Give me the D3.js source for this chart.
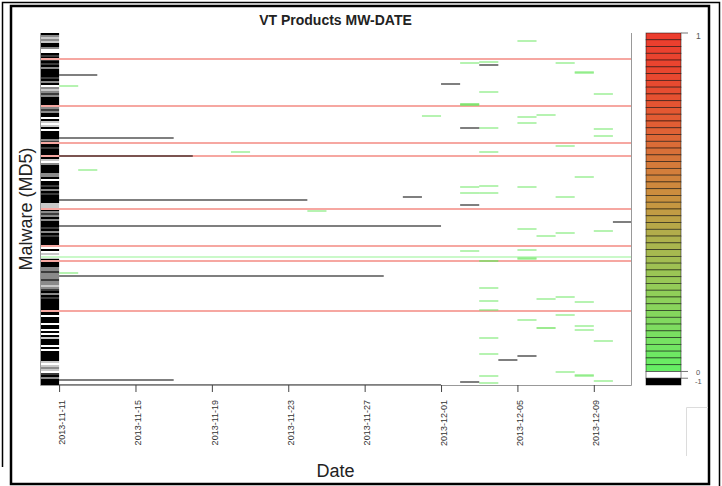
<!DOCTYPE html>
<html>
<head>
<meta charset="utf-8">
<title>VT Products MW-DATE</title>
<script src="https://cdnjs.cloudflare.com/ajax/libs/d3/7.8.5/d3.min.js"></script>
<style>
    body { margin: 0; background: #fff; }
    svg { display: block; font-family: "Liberation Sans", Arial, sans-serif; }
</style>
</head>
<body>
<div id="chart"></div>
<script>
// first and last day of the grid (one column per day)
const firstDay = "2013-11-10";
const lastDay = "2013-12-11";
const tickDates = ["2013-11-11", "2013-11-15", "2013-11-19", "2013-11-23",
    "2013-11-27", "2013-12-01", "2013-12-05", "2013-12-09"];

// malware rows, row 0 at the top
const nRows = 352;

// first day column, one char per two rows
// K = -1 (black), D/G/L = thin mixed rows, W = 0
const firstColumn = "K" + "GLGL" + "KK" + "GW" + "W" + "KD" + "K" + "DKDKG" +
    "KKKK" + "DKGK" + "W" + "GLGDG" + "KKKK" + "K" + "GDGK" + "KWK" + "LWL" +
    "KWK" + "KKK" + "GD" + "KKDKKKKK" + "LWG" + "KKKK" + "GG" + "KWK" +
    "KDKGKDK" + "KKK" + "LLL" + "K" + "GDGKG" + "KKK" + "DKGKD" + "KKKK" + "K" +
    "WKW" + "LWL" + "KKKK" + "GGDGG" + "GDGGLGD" + "KGKD" + "KKKKK" + "K" +
    "KKWKK" + "KWKKWKWK" + "L" + "KK" + "KWKWK" + "KKKK" + "LWLGLW" + "DKGK" + "KK";

// rows that are 1 on every day
const redRows = [25, 72, 109, 122, 175, 212, 227, 277];
// row that is just above 0 on every day
const greenRows = [223];

// runs of -1 : [row, from, to]
const blackRuns = [
    [41, "2013-11-11", "2013-11-13"],
    [104, "2013-11-11", "2013-11-17"],
    [122, "2013-11-11", "2013-11-18"],
    [166, "2013-11-11", "2013-11-24"],
    [192, "2013-11-11", "2013-12-01"],
    [242, "2013-11-11", "2013-11-28"],
    [346, "2013-11-11", "2013-11-17"],
    [351, "2013-11-11", "2013-12-01"],
    [31, "2013-12-03", "2013-12-04"],
    [50, "2013-12-01", "2013-12-02"],
    [94, "2013-12-02", "2013-12-03"],
    [163, "2013-11-29", "2013-11-30"],
    [171, "2013-12-02", "2013-12-03"],
    [188, "2013-12-10", "2013-12-11"],
    [322, "2013-12-05", "2013-12-06"],
    [326, "2013-12-04", "2013-12-05"],
    [348, "2013-12-02", "2013-12-03"]
];

// single days with a small value : [row, day, value]
const greenCells = [
    [7, "2013-12-05", 0.05], [28, "2013-12-03", 0.05], [29, "2013-12-02", 0.05],
    [29, "2013-12-07", 0.05], [38, "2013-12-08", 0.05], [39, "2013-12-08", 0.05],
    [52, "2013-11-11", 0.05], [58, "2013-12-03", 0.05], [60, "2013-12-09", 0.05],
    [70, "2013-12-02", 0.08], [71, "2013-12-02", 0.08], [81, "2013-12-06", 0.05],
    [82, "2013-11-30", 0.05], [83, "2013-12-05", 0.05], [89, "2013-12-05", 0.05],
    [94, "2013-12-03", 0.05], [95, "2013-12-09", 0.05], [102, "2013-12-09", 0.05],
    [112, "2013-12-07", 0.05], [118, "2013-12-03", 0.05], [118, "2013-11-20", 0.05],
    [136, "2013-11-12", 0.05], [143, "2013-12-08", 0.05], [152, "2013-12-03", 0.05],
    [153, "2013-12-02", 0.05], [153, "2013-12-05", 0.05], [159, "2013-12-02", 0.05],
    [159, "2013-12-03", 0.05], [163, "2013-12-07", 0.05], [177, "2013-11-24", 0.05],
    [195, "2013-12-05", 0.05], [197, "2013-12-09", 0.05], [199, "2013-12-07", 0.05],
    [202, "2013-12-06", 0.05], [216, "2013-12-05", 0.05], [217, "2013-12-02", 0.05],
    [224, "2013-12-05", 0.05], [225, "2013-12-05", 0.05], [227, "2013-12-03", 0.08],
    [239, "2013-11-11", 0.05], [254, "2013-12-03", 0.05], [263, "2013-12-07", 0.05],
    [265, "2013-12-06", 0.05], [267, "2013-12-03", 0.05], [268, "2013-12-08", 0.05],
    [276, "2013-12-03", 0.05], [281, "2013-12-07", 0.05], [286, "2013-12-05", 0.05],
    [292, "2013-12-08", 0.05], [294, "2013-12-06", 0.08], [296, "2013-12-08", 0.05],
    [304, "2013-12-03", 0.05], [307, "2013-12-09", 0.05], [320, "2013-12-03", 0.05],
    [338, "2013-12-07", 0.05], [341, "2013-12-08", 0.05], [342, "2013-12-08", 0.05],
    [342, "2013-12-03", 0.05], [347, "2013-12-09", 0.05], [349, "2013-12-03", 0.05]
];

// colour key: 50 steps from 0 to 1, then 0 and -1
const keySteps = 50;
const keyTicks = [["1", 0], ["0", 50], ["-1", 51]];


let margin = {top: 33, right: 90, bottom: 101, left: 40},
    w = 722 - margin.left - margin.right,
    h = 486 - margin.top - margin.bottom;

let parseDay = d3.utcParse("%Y-%m-%d");

// green -> red ramp for values above 0
let color = d3.scaleLinear()
    .domain([0, 0.1, 0.25, 0.4, 0.5, 0.6, 0.72, 0.85, 1])
    .range(["#64f064", "#78e062", "#94cc58", "#b0b04c", "#c89440",
        "#d47c3a", "#e06034", "#e84a30", "#ec3c2e"]);

let shade = {K: "#000", D: "#3c3c3c", G: "#8a8a8a", L: "#c8c8c8", W: "#fff"};

let root = d3.select("#chart").append("svg")
    .attr("width", 722)
    .attr("height", 486);

//----------------------------frame----------------------------------------
root.append("path")
    .attr("d", "M2.5,467V2.5H719.5V486")
    .attr("fill", "none")
    .attr("stroke", "#000")
    .attr("stroke-width", 1.5);
root.append("rect")
    .attr("x", 11).attr("y", 6)
    .attr("width", 698).attr("height", 478)
    .attr("fill", "#fff")
    .attr("stroke", "#000")
    .attr("stroke-width", 2.5);
root.append("path")
    .attr("d", "M686.5,456V407.5H708")
    .attr("fill", "none")
    .attr("stroke", "#dcdcdc");

let svg = root.append("g")
    .attr("transform", "translate(" + margin.left + "," + margin.top + ")");

// plot is 592 wide, colour key sits to the right of it
let plotW = 592;

let xScale = d3.scaleUtc()
    .domain([parseDay(firstDay), parseDay(lastDay)])
    .range([0, plotW]);

let yScale = d3.scaleLinear()
    .domain([0, nRows])
    .range([0, h]);

// y for a one row line
let rowY = function (r) { return yScale(r) + 1; };

//----------------------------first column----------------------------------
let colData = firstColumn.split("").map(function (c, i) { return {row: i * 2, c: c}; });
svg.selectAll(".first")
    .data(colData).enter()
    .append("rect")
    .attr("class", "first")
    .attr("x", xScale(parseDay(firstDay)))
    .attr("y", function (d) { return yScale(d.row); })
    .attr("width", xScale(parseDay("2013-11-11")) - xScale(parseDay(firstDay)))
    .attr("height", yScale(2) - yScale(0))
    .attr("fill", function (d) { return shade[d.c]; });

//----------------------------full rows--------------------------------------
let fullRows = redRows.map(function (r) { return {row: r, v: 1}; })
    .concat(greenRows.map(function (r) { return {row: r, v: 0.02}; }));

svg.selectAll(".fullbg")
    .data(fullRows).enter()
    .append("line")
    .attr("class", "fullbg")
    .attr("x1", 0).attr("x2", plotW)
    .attr("y1", function (d) { return rowY(d.row); })
    .attr("y2", function (d) { return rowY(d.row); })
    .attr("stroke", "#fff")
    .attr("stroke-width", 2);

svg.selectAll(".full")
    .data(fullRows).enter()
    .append("line")
    .attr("class", "full")
    .attr("x1", 0).attr("x2", plotW)
    .attr("y1", function (d) { return rowY(d.row); })
    .attr("y2", function (d) { return rowY(d.row); })
    .attr("stroke", function (d) { return color(d.v); })
    .attr("stroke-opacity", function (d) { return d.v > 0.5 ? 0.45 : 0.35; })
    .attr("stroke-width", 2);

//----------------------------single days------------------------------------
svg.selectAll(".cell")
    .data(greenCells).enter()
    .append("line")
    .attr("class", "cell")
    .attr("x1", function (d) { return xScale(parseDay(d[1])); })
    .attr("x2", function (d) { return xScale(d3.utcDay.offset(parseDay(d[1]), 1)); })
    .attr("y1", function (d) { return rowY(d[0]); })
    .attr("y2", function (d) { return rowY(d[0]); })
    .attr("stroke", function (d) { return color(d[2]); })
    .attr("stroke-opacity", function (d) { return d[2] > 0.06 ? 0.7 : 0.5; })
    .attr("stroke-width", 2);

//----------------------------runs of -1------------------------------------
svg.selectAll(".run")
    .data(blackRuns).enter()
    .append("line")
    .attr("class", "run")
    .attr("x1", function (d) { return xScale(parseDay(d[1])); })
    .attr("x2", function (d) { return xScale(parseDay(d[2])); })
    .attr("y1", function (d) { return rowY(d[0]); })
    .attr("y2", function (d) { return rowY(d[0]); })
    .attr("stroke", "#000")
    .attr("stroke-opacity", 0.5)
    .attr("stroke-width", 2);

//----------------------------box and axis----------------------------------
svg.append("path")
    .attr("d", "M0.5,0V" + (h + 0.5) + "H" + (plotW - 0.5) + "V0")
    .attr("fill", "none")
    .attr("stroke", "#999");

svg.append("g")
    .attr("class", "axis")
    .attr("transform", "translate(0," + h + ")")
    .call(d3.axisBottom(xScale)
        .tickValues(tickDates.map(parseDay))
        .tickFormat(d3.utcFormat("%Y-%m-%d"))
        .tickSize(7))
    .call(function (g) { g.select(".domain").remove(); })
    .call(function (g) { g.selectAll("line").attr("stroke", "#444"); })
    //rotate labels
    .selectAll("text")
    .attr("transform", "rotate(-90)")
    .attr("x", -15)
    .attr("y", 2)
    .attr("dy", "0.35em")
    .attr("fill", "#333")
    .style("font-size", "9px")
    .style("font-family", "Liberation Sans, Arial, sans-serif")
    .style("text-anchor", "end");

//----------------------------colour key------------------------------------
let keyX = 646 - margin.left, keyW = 35;
let keyScale = d3.scaleBand()
    .domain(d3.range(keySteps + 2))
    .range([0, h]);

let keyColor = function (i) {
    if (i < keySteps) return color((keySteps - 0.5 - i) / keySteps);
    return i == keySteps ? "#fff" : "#000";
};

svg.selectAll(".key")
    .data(d3.range(keySteps + 2)).enter()
    .append("rect")
    .attr("class", "key")
    .attr("x", keyX)
    .attr("y", function (d) { return keyScale(d); })
    .attr("width", keyW)
    .attr("height", keyScale.bandwidth())
    .attr("fill", keyColor)
    .attr("stroke", "rgba(0,0,0,0.6)")
    .attr("stroke-width", 0.8);

let keyTick = svg.selectAll(".keytick")
    .data(keyTicks).enter()
    .append("g")
    .attr("class", "keytick")
    .attr("transform", function (d) { return "translate(" + (keyX + keyW) + "," + keyScale(d[1]) + ")"; });
keyTick.append("line")
    .attr("x2", 7)
    .attr("stroke", "#777");
// the 0 and -1 ticks are close, keep their labels small and pushed apart
keyTick.append("text")
    .attr("x", function (d) { return d[0] == "-1" ? 14 : 15; })
    .attr("dy", function (d) { return d[0] == "1" ? 5.5 : (d[0] == "0" ? 3.4 : 6.2); })
    .attr("fill", "#555")
    .style("font-size", function (d) { return d[0] == "1" ? "8.5px" : "7.5px"; })
    .text(function (d) { return d[0]; });

//----------------------------titles----------------------------------------
root.append("text")
    .attr("x", 335.5)
    .attr("y", 25)
    .attr("text-anchor", "middle")
    .attr("fill", "#222")
    .style("font-size", "14px")
    .style("font-weight", "bold")
    .text("VT Products MW-DATE");

root.append("text")
    .attr("transform", "translate(31.5,209) rotate(-90)")
    .attr("text-anchor", "middle")
    .attr("fill", "#222")
    .style("font-size", "18px")
    .text("Malware (MD5)");

root.append("text")
    .attr("x", 335.5)
    .attr("y", 477)
    .attr("text-anchor", "middle")
    .attr("fill", "#222")
    .style("font-size", "18px")
    .text("Date");
</script>
</body>
</html>
